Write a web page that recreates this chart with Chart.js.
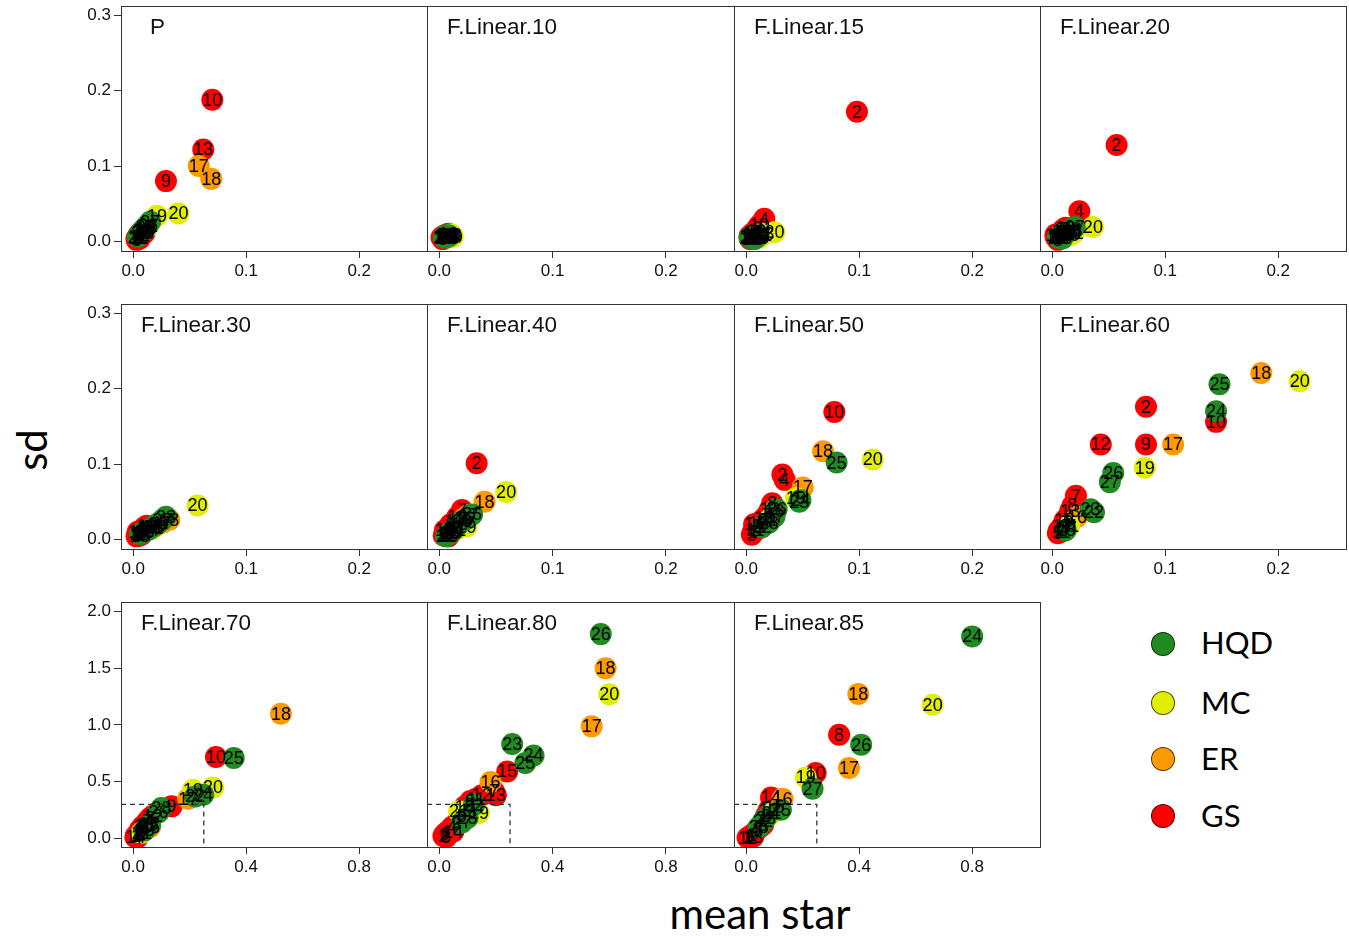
<!DOCTYPE html>
<html>
<head>
<meta charset="utf-8">
<script src="https://cdn.jsdelivr.net/npm/chart.js@4.4.1/dist/chart.umd.min.js"></script>
<style>
  body { margin: 0; background: #fff; }
  #page { position: relative; width: 1349px; height: 937px; overflow: hidden; background: #fff; }
  canvas { position: absolute; }
  .txt { position: absolute; font-family: Lato, "Open Sans", sans-serif; color: #000; white-space: nowrap; }
  .dot { position: absolute; width: 24px; height: 24px; border-radius: 50%; box-sizing: border-box; border: 1px solid rgba(0,0,0,0.65); }
</style>
</head>
<body>
<div id="page"></div>
<script>
// items 1..28 and which method each one belongs to
const itemIds = [1,2,3,4,5,6,7,8,9,10,11,12,13,14,15,16,17,18,19,20,21,22,23,24,25,26,27,28];
const itemMethod = ['GS','GS','GS','GS','GS','GS','GS','GS','GS','GS','GS','GS','GS','GS','GS',
                    'ER','ER','ER','MC','MC','MC','HQD','HQD','HQD','HQD','HQD','HQD','HQD'];

const methodNames = ['HQD', 'MC', 'ER', 'GS'];
const methodColors = { HQD: '#218B21', MC: '#E2EE00', ER: '#FF9900', GS: '#FF0000' };

const panelNames = ['P', 'F.Linear.10', 'F.Linear.15', 'F.Linear.20', 'F.Linear.30', 'F.Linear.40',
                    'F.Linear.50', 'F.Linear.60', 'F.Linear.70', 'F.Linear.80', 'F.Linear.85'];

// mean star (x) and sd (y) per panel, in item order 1..28
const meanP   = [.003,.005,.004,.006,.003,.007,.008,.005,.029,.070,.004,.009,.062,.006,.010, .011,.058,.069, .021,.040,.013, .004,.007,.009,.011,.013,.015,.008];
const sdP     = [.004,.006,.003,.010,.002,.008,.012,.009,.080,.188,.005,.014,.122,.004,.011, .016,.100,.083, .034,.037,.020, .006,.011,.015,.019,.022,.026,.014];
const mean10  = [.003,.005,.002,.006,.003,.004,.007,.005,.006,.008,.004,.007,.009,.003,.005, .008,.010,.011, .009,.012,.010, .004,.005,.006,.007,.008,.009,.006];
const sd10    = [.004,.006,.005,.008,.003,.007,.009,.005,.006,.010,.004,.007,.009,.006,.008, .006,.007,.008, .005,.006,.009, .005,.007,.008,.006,.008,.007,.005];
const mean15  = [.003,.098,.010,.016,.004,.006,.008,.005,.007,.012,.004,.009,.006,.003,.005, .010,.013,.016, .012,.025,.014, .003,.005,.006,.008,.009,.011,.007];
const sd15    = [.004,.172,.018,.030,.006,.008,.012,.005,.010,.022,.003,.014,.011,.007,.009, .006,.008,.010, .005,.012,.009, .005,.004,.006,.007,.005,.008,.003];
const mean20  = [.004,.057,.008,.024,.003,.006,.010,.005,.007,.012,.004,.009,.006,.003,.011, .012,.015,.018, .016,.036,.019, .005,.008,.011,.014,.017,.020,.009];
const sd20    = [.004,.128,.012,.040,.006,.008,.016,.002,.010,.018,.007,.014,.005,.009,.012, .010,.012,.014, .008,.019,.011, .005,.008,.010,.013,.016,.019,.004];
const mean30  = [.004,.008,.006,.010,.003,.007,.009,.005,.011,.012,.004,.013,.006,.008,.010, .020,.026,.032, .022,.057,.018, .006,.010,.014,.018,.022,.026,.029];
const sd30    = [.006,.012,.010,.016,.004,.009,.014,.008,.013,.018,.010,.016,.005,.007,.011, .018,.022,.026, .020,.045,.015, .007,.010,.013,.017,.021,.026,.030];
const mean40  = [.005,.033,.008,.012,.004,.007,.020,.010,.009,.014,.006,.016,.011,.005,.008, .022,.026,.040, .024,.059,.015, .006,.009,.013,.017,.029,.024,.020];
const sd40    = [.008,.101,.012,.018,.005,.010,.039,.020,.015,.024,.006,.030,.009,.012,.004, .028,.032,.050, .017,.063,.013, .004,.008,.013,.020,.033,.027,.024];
const mean50  = [.006,.032,.010,.034,.005,.014,.018,.023,.012,.078,.008,.021,.016,.007,.011, .025,.050,.068, .044,.112,.020, .014,.047,.048,.080,.027,.025,.020];
const sd50    = [.010,.086,.018,.079,.006,.025,.032,.048,.015,.169,.012,.040,.028,.020,.022, .038,.069,.117, .055,.106,.025, .016,.050,.052,.102,.040,.030,.022];
const mean60  = [.006,.083,.010,.012,.005,.014,.021,.018,.083,.145,.008,.043,.016,.009,.011, .022,.107,.185, .082,.219,.015, .037,.034,.145,.148,.054,.051,.012];
const sd60    = [.012,.176,.015,.020,.008,.030,.058,.045,.126,.156,.010,.126,.038,.018,.025, .030,.126,.221, .095,.210,.018, .036,.040,.170,.206,.088,.076,.012];
const mean70  = [.010,.020,.030,.015,.040,.025,.050,.060,.136,.293,.035,.070,.045,.008,.055, .060,.195,.523, .212,.283,.030, .220,.040,.248,.356,.090,.060,.100];
const sd70    = [.025,.040,.060,.005,.090,.080,.150,.180,.282,.717,.110,.200,.120,.010,.130, .100,.350,1.099, .429,.449,.050, .370,.070,.385,.708,.230,.120,.268];
const mean80  = [.030,.015,.060,.045,.080,.020,.193,.025,.110,.090,.130,.150,.200,.050,.240, .181,.538,.587, .140,.600,.070, .123,.2575,.333,.304,.570,.080,.100];
const sd80    = [.060,.020,.130,.100,.200,.040,.414,.010,.330,.280,.350,.380,.380,.060,.590, .497,.987,1.500, .223,1.270,.240, .297,.832,.731,.664,1.800,.140,.180];
const mean85  = [.020,.010,.040,.030,.060,.015,.050,.329,.070,.246,.005,.080,.025,.088,.100, .129,.364,.397, .211,.660,.090, .060,.070,.800,.123,.407,.235,.045];
const sd85    = [.030,.010,.080,.050,.120,.020,.100,.914,.200,.576,.005,.250,.015,.360,.280, .350,.620,1.272, .537,1.178,.220, .150,.180,1.780,.253,.826,.438,.100];

// tick labels
const xTicksSmall = [0, 0.1, 0.2];
const yTicksSmall = [0, 0.1, 0.2, 0.3];
const xTicksLarge = [0, 0.4, 0.8];
const yTicksLarge = [0, 0.5, 1.0, 1.5, 2.0];

// dashed zoom box on the last row (corner of the 0-0.25 / 0-0.3 region)
const insetMean = 0.25;
const insetSd = 0.3;

const panelMeans = [meanP, mean10, mean15, mean20, mean30, mean40, mean50, mean60, mean70, mean80, mean85];
const panelSds = [sdP, sd10, sd15, sd20, sd30, sd40, sd50, sd60, sd70, sd80, sd85];

// layout
const colLeft = [121, 427, 734, 1040, 1346];
const rowTop = [6, 304, 602];
const boxH = 245;
const axisW = 46, axisH = 36;
const tickFont = { family: '"Liberation Sans", Arial, sans-serif', size: 17 };

Chart.defaults.font.family = tickFont.family;

const boxPlugin = {
  id: 'box',
  afterDraw(chart) {
    const ca = chart.chartArea, ctx = chart.ctx;
    ctx.save();
    ctx.strokeStyle = '#333';
    ctx.lineWidth = 1;
    ctx.strokeRect(ca.left + 0.5, ca.top + 0.5, ca.right - ca.left, ca.bottom - ca.top);
    const o = chart.options.plugins.box;
    ctx.fillStyle = '#111';
    ctx.font = '22.5px "Liberation Sans", Arial, sans-serif';
    ctx.textAlign = 'left';
    ctx.textBaseline = 'alphabetic';
    ctx.fillText(o.title, ca.left + o.indent, ca.top + 27.5);
    ctx.restore();
  }
};

const idLabels = {
  id: 'idLabels',
  afterDatasetsDraw(chart) {
    const meta = chart.getDatasetMeta(1);
    const ca = chart.chartArea, ctx = chart.ctx;
    ctx.save();
    ctx.beginPath();
    ctx.rect(ca.left, ca.top, ca.right - ca.left, ca.bottom - ca.top);
    ctx.clip();
    ctx.font = '18px "Liberation Sans", Arial, sans-serif';
    ctx.fillStyle = '#000';
    ctx.textAlign = 'center';
    ctx.textBaseline = 'middle';
    meta.data.forEach((el, j) => ctx.fillText(String(itemIds[j]), el.x, el.y + 1));
    ctx.restore();
  }
};

const page = document.getElementById('page');

panelNames.forEach((name, i) => {
  const row = Math.floor(i / 4), col = i % 4;
  const L = colLeft[col], W = colLeft[col + 1] - L, T = rowTop[row];
  const large = row === 2;
  const xr = large ? [-0.043, 1.04] : [-0.0108, 0.26];
  const yr = large ? [-0.076, 2.083] : [-0.0128, 0.3125];
  const xt = large ? xTicksLarge : xTicksSmall;
  const yt = large ? yTicksLarge : yTicksSmall;

  const canvas = document.createElement('canvas');
  const extra = col === 0 ? axisW : 0;
  canvas.width = W + 1 + extra;
  canvas.height = boxH + axisH;
  canvas.style.left = (L - extra) + 'px';
  canvas.style.top = T + 'px';
  page.appendChild(canvas);

  const points = itemIds.map((id, j) => ({ x: panelMeans[i][j], y: panelSds[i][j] }));
  const inset = large ? [{ x: xr[0], y: insetSd }, { x: insetMean, y: insetSd }, { x: insetMean, y: yr[0] }] : [];

  new Chart(canvas, {
    type: 'scatter',
    data: {
      datasets: [
        {
          data: inset,
          showLine: true,
          borderColor: '#333',
          borderWidth: 1.3,
          borderDash: [5, 4],
          pointRadius: 0,
          fill: false
        },
        {
          data: points,
          pointRadius: 11,
          pointBorderWidth: 0,
          pointBackgroundColor: itemMethod.map(m => methodColors[m]),
          pointBorderColor: 'rgba(0,0,0,0)'
        }
      ]
    },
    options: {
      responsive: false,
      animation: false,
      devicePixelRatio: 1,
      events: [],
      layout: { autoPadding: false, padding: { left: 0, right: 1, top: 0, bottom: 0 } },
      plugins: {
        legend: { display: false },
        tooltip: { enabled: false },
        box: { title: name, indent: i === 0 ? 29 : 20 }
      },
      scales: {
        x: {
          type: 'linear',
          min: xr[0],
          max: xr[1],
          afterBuildTicks: s => { s.ticks = xt.map(v => ({ value: v })); },
          afterFit: s => { s.height = axisH; s.paddingLeft = 0; s.paddingRight = 0; },
          grid: { drawOnChartArea: false, drawTicks: true, tickLength: 7, tickColor: '#333', color: '#333' },
          border: { display: false },
          ticks: { font: tickFont, color: '#111', padding: 3, maxRotation: 0, autoSkip: false,
                   callback: v => v.toFixed(1) }
        },
        y: {
          type: 'linear',
          display: col === 0,
          min: yr[0],
          max: yr[1],
          afterBuildTicks: s => { s.ticks = yt.map(v => ({ value: v })); },
          afterFit: s => { s.width = col === 0 ? axisW : 0; s.paddingTop = 0; s.paddingBottom = 0; },
          grid: { drawOnChartArea: false, drawTicks: true, tickLength: 7, tickColor: '#333', color: '#333' },
          border: { display: false },
          ticks: { font: tickFont, color: '#111', padding: 3, autoSkip: false,
                   callback: v => v.toFixed(1) }
        }
      }
    },
    plugins: [boxPlugin, idLabels]
  });
});

// legend
const legendY = [643.5, 703, 759, 816];
methodNames.forEach((m, k) => {
  const dot = document.createElement('div');
  dot.className = 'dot';
  dot.style.left = '1151px';
  dot.style.top = (legendY[k] - 12) + 'px';
  dot.style.background = methodColors[m];
  page.appendChild(dot);
  const t = document.createElement('div');
  t.className = 'txt';
  t.textContent = m;
  t.style.fontSize = '31px';
  t.style.lineHeight = '31px';
  t.style.left = '1201px';
  t.style.top = (legendY[k] - 16.4) + 'px';
  page.appendChild(t);
});

// axis titles
const xt = document.createElement('div');
xt.className = 'txt';
xt.textContent = 'mean star';
xt.style.fontSize = '42px';
xt.style.lineHeight = '42px';
xt.style.left = '560px';
xt.style.width = '400px';
xt.style.textAlign = 'center';
xt.style.top = '892px';
page.appendChild(xt);

const yt = document.createElement('div');
yt.className = 'txt';
yt.textContent = 'sd';
yt.style.fontSize = '42px';
yt.style.lineHeight = '42px';
yt.style.width = '60px';
yt.style.height = '42px';
yt.style.textAlign = 'center';
yt.style.left = (30.7 - 30) + 'px';
yt.style.top = (450 - 21) + 'px';
yt.style.transform = 'rotate(-90deg)';
page.appendChild(yt);
</script>
</body>
</html>
